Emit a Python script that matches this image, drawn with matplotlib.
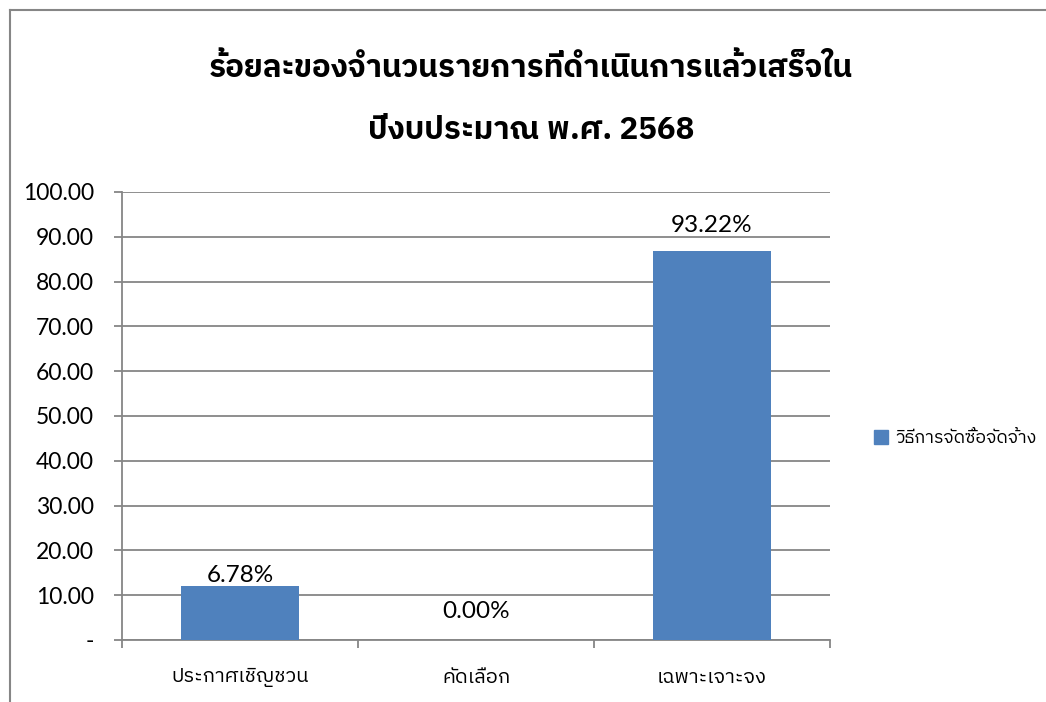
import matplotlib
matplotlib.use("Agg")
import matplotlib.pyplot as plt
from matplotlib import font_manager
from matplotlib.patches import Rectangle

# ข้อมูล (ค่าแท่งอ่านจากภาพ, ป้ายเป็นข้อความตามต้นฉบับ)
categories = ["ประกาศเชิญชวน", "คัดเลือก", "เฉพาะเจาะจง"]
values = [12.0, 0.0, 86.8]
value_labels = ["6.78%", "0.00%", "93.22%"]
series_name = "วิธีการจัดซื้อจัดจ้าง"
yticks = [0, 10, 20, 30, 40, 50, 60, 70, 80, 90, 100]
title = "ร้อยละของจำนวนรายการที่ดำเนินการแล้วเสร็จใน\n\nปีงบประมาณ พ.ศ. 2568"

# หาฟอนต์ไทยที่ติดตั้งอยู่
names = {f.name for f in font_manager.fontManager.ttflist}
thai = [n for n in names if "Thai" in n or n in ("Tahoma", "Loma", "Garuda", "Sarabun",
                                                   "Kinnari", "Norasi", "Waree", "Umpush")]
thai = sorted(thai, key=lambda n: ("Looped" in n, n))
plt.rcParams["font.family"] = thai[:1] + ["Lato", "DejaVu Sans"]
NUM = ["Lato", "DejaVu Sans"]

BLUE = "#4f81bd"
GRID = "#868686"

fig = plt.figure(figsize=(10.46, 7.02), dpi=100)
ax = fig.add_axes([122 / 1046, 1 - 640 / 702, (830 - 122) / 1046, (640 - 192) / 702])

x = range(len(categories))
bars = ax.bar(x, values, width=0.5, color=BLUE, zorder=3)
offsets = [0, 13, 11]
for b, lab, off in zip(bars, value_labels, offsets):
    ax.annotate(lab, (b.get_x() + b.get_width() / 2, b.get_height()),
                xytext=(0, off), textcoords="offset points", ha="center", va="bottom",
                fontsize=17.5, family=NUM)

ax.set_xlim(-0.5, len(categories) - 0.5)
ax.set_ylim(0, 100)
ax.set_yticks(yticks)
ax.set_yticklabels(["-" if v == 0 else f"{v:.2f}" for v in yticks], fontsize=16.5, family=NUM)
# ขีดแบ่งหมวดเป็น major, ชื่อหมวดเป็น minor
ax.set_xticks([i - 0.5 for i in range(len(categories) + 1)])
ax.set_xticklabels([""] * (len(categories) + 1))
ax.set_xticks(list(x), minor=True)
ax.set_xticklabels(categories, minor=True, fontsize=14.5)
ax.tick_params(axis="x", which="minor", length=0, pad=20)
ax.tick_params(axis="x", which="major", length=6, color=GRID, width=1.3)
ax.tick_params(axis="y", length=6, color=GRID, width=1.3, pad=14)
ax.grid(axis="y", color=GRID, lw=1.3, zorder=0)
for s in ("top", "right"):
    ax.spines[s].set_visible(False)
for s in ("left", "bottom"):
    ax.spines[s].set_color(GRID)
    ax.spines[s].set_linewidth(1.3)

fig.text(0.508, 1 - 99 / 702, title, ha="center", va="center", fontsize=22.5,
         fontweight="bold", linespacing=1.1)

# กรอบด้านบนและด้านซ้าย
fig.add_artist(plt.Line2D([10 / 1046, 1], [1 - 10 / 702] * 2, color=GRID, lw=1.5))
fig.add_artist(plt.Line2D([10 / 1046] * 2, [0, 1 - 10 / 702], color=GRID, lw=1.5))

handle = Rectangle((0, 0), 1, 1, color=BLUE)
fig.legend([handle], [series_name], loc="center left",
           bbox_to_anchor=(858 / 1046, 1 - 438 / 702), frameon=False,
           fontsize=12.8, handlelength=0.8, handleheight=0.8, handletextpad=0.4)

fig.savefig("out.png", dpi=100)
